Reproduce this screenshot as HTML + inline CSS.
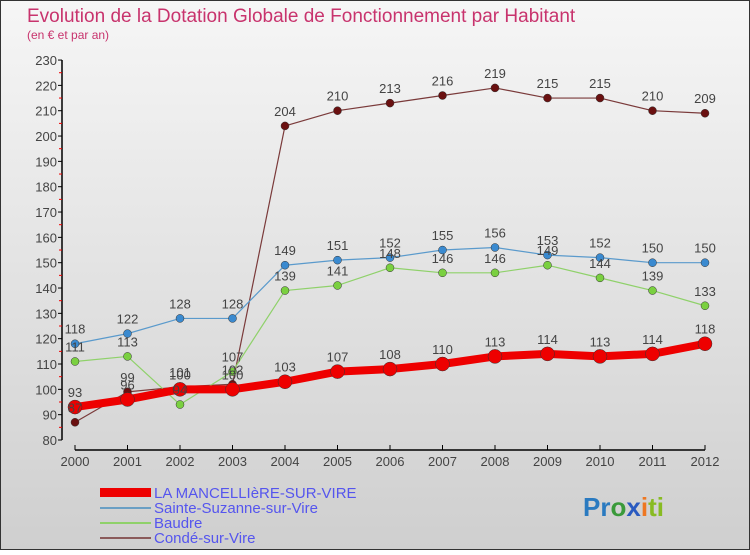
<!DOCTYPE html>
<html><head><meta charset="utf-8"><style>
body{margin:0;width:750px;height:550px;overflow:hidden;font-family:"Liberation Sans",sans-serif}
</style></head><body>
<svg id="c" width="750" height="550" xmlns="http://www.w3.org/2000/svg">
<defs><linearGradient id="bg" x1="0" y1="0" x2="0" y2="1"><stop offset="0" stop-color="#f6f6f6"/><stop offset="1" stop-color="#cfcfcf"/></linearGradient></defs>
<rect x="0.5" y="0.5" width="749" height="549" fill="url(#bg)" stroke="#333"/>
<text x="27" y="22" font-size="19" fill="#c8336d">Evolution de la Dotation Globale de Fonctionnement par Habitant</text>
<text x="27" y="39" font-size="12" fill="#c8336d">(en € et par an)</text>
<g id="axes"></g><g id="series"></g><g id="labels"></g>
<g font-size="15" fill="#5555ee">
<rect x="100" y="488" width="51" height="9" fill="#ee0000"/>
<text x="154" y="498">LA MANCELLIèRE-SUR-VIRE</text>
<rect x="100" y="507" width="51" height="2" fill="#6a9fc4"/>
<text x="154" y="513">Sainte-Suzanne-sur-Vire</text>
<rect x="100" y="522" width="51" height="2" fill="#8fd16a"/>
<text x="154" y="528">Baudre</text>
<rect x="100" y="537" width="51" height="2" fill="#8a5a5a"/>
<text x="154" y="543">Condé-sur-Vire</text>
</g>
<text x="583" y="516" font-size="26" font-weight="bold"><tspan fill="#2a7ac0">Pr</tspan><tspan fill="#3a9a3a">o</tspan><tspan fill="#2a5ac0">x</tspan><tspan fill="#ee7722">i</tspan><tspan fill="#88bb22">ti</tspan></text>
</svg>
<script>
const years=[2000,2001,2002,2003,2004,2005,2006,2007,2008,2009,2010,2011,2012];
const mancelliere=[93,96,100,100,103,107,108,110,113,114,113,114,118];
const sainteSuzanne=[118,122,128,128,149,151,152,155,156,153,152,150,150];
const baudre=[111,113,94,107,139,141,148,146,146,149,144,139,133];
const conde=[87,99,101,102,204,210,213,216,219,215,215,210,209];
const yTicks=[80,90,100,110,120,130,140,150,160,170,180,190,200,210,220,230];
const NS="http://www.w3.org/2000/svg";
const X=i=>75+i*52.5, Y=v=>440-(v-80)*2.533;
function mk(p,t,a){const e=document.createElementNS(NS,t);for(const k in a)e.setAttribute(k,a[k]);p.appendChild(e);return e;}
const ax=document.getElementById('axes');
const yl=mk(ax,'line',{x1:62,y1:Y(230),x2:62,y2:440,stroke:'#000','stroke-width':1.5});


const xl=mk(ax,'line',{x1:75,y1:450,x2:X(12),y2:450,stroke:'#000','stroke-width':1.5});


yTicks.forEach(v=>{
 mk(ax,'line',{x1:58,y1:Y(v),x2:62,y2:Y(v),stroke:'#000'});
 if(v<230)mk(ax,'line',{x1:59,y1:Y(v+5),x2:62,y2:Y(v+5),stroke:'#e00'});
 const t=mk(ax,'text',{x:57,y:Y(v)+5,'font-size':13,fill:'#444','text-anchor':'end'});
 t.textContent=v;
 
 
});
years.forEach((y,i)=>{
 mk(ax,'line',{x1:X(i),y1:445,x2:X(i),y2:450,stroke:'#000'});
 const t=mk(ax,'text',{x:X(i),y:466,'font-size':13,fill:'#444','text-anchor':'middle'});
 t.textContent=y;
 
 
});
const sg=document.getElementById('series'),lg=document.getElementById('labels');
function draw(vals,name,lc,pc,w,r){
 const p=mk(sg,'polyline',{points:vals.map((v,i)=>X(i)+','+Y(v)).join(' '),fill:'none',stroke:lc,'stroke-width':w,'stroke-linejoin':'round'});
 
 
 vals.forEach((v,i)=>{
  const c=mk(sg,'circle',{cx:X(i),cy:Y(v),r:r,fill:pc,stroke:'#333','stroke-width':0.5});
  
  
  const t=mk(lg,'text',{x:X(i),y:Y(v)-10,'font-size':13,fill:'#444','text-anchor':'middle'});
  t.textContent=v;
  
  
 });
}
draw(conde,'conde','#7a3a3a','#6a1010',1.2,4);
draw(baudre,'baudre','#8fd16a','#7ad040',1.2,4);
draw(sainteSuzanne,'sainte-suzanne','#5a9acc','#3a8ad0',1.2,4);
draw(mancelliere,'mancelliere','#ee0000','#ee0000',8,7);
</script>
</body></html>
